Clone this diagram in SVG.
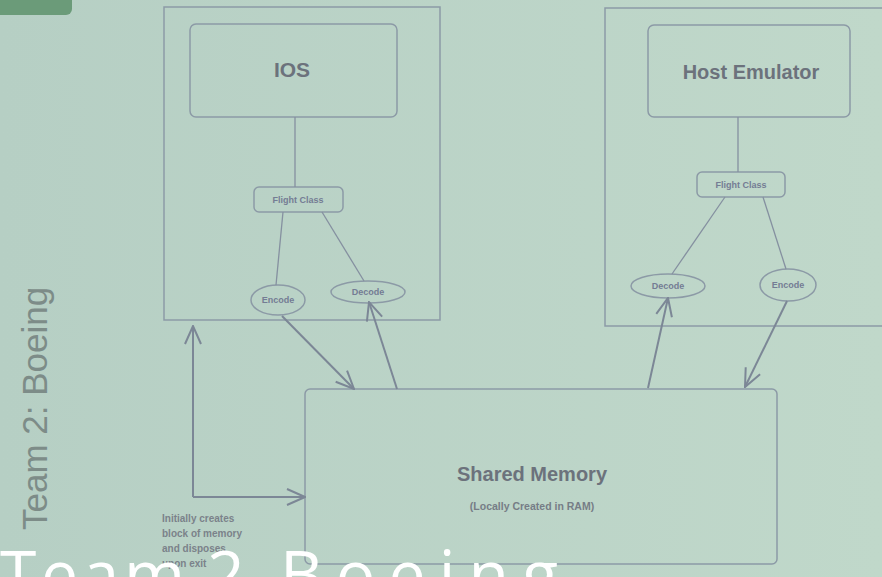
<svg xmlns="http://www.w3.org/2000/svg" width="882" height="577" viewBox="0 0 882 577">
<defs>
<linearGradient id="bg" x1="0" y1="0" x2="1" y2="0">
<stop offset="0" stop-color="#b6cfc4"/>
<stop offset="1" stop-color="#c0d8ca"/>
</linearGradient>
<marker id="ah" viewBox="0 0 20 20" refX="19" refY="10" markerWidth="20" markerHeight="20" markerUnits="userSpaceOnUse" orient="auto">
<path d="M1,2 L19,10 L1,18" fill="none" stroke="#7c8796" stroke-width="2"/>
</marker>
<style>
.box{fill:none;stroke:#8c9aa6;stroke-width:1.5}
.rbox{fill:none;stroke:#8c9aa6;stroke-width:1.5}
.ln{fill:none;stroke:#8590a0;stroke-width:1.3}
.arr{fill:none;stroke:#7c8796;stroke-width:2;marker-end:url(#ah)}
.t{font-family:"Liberation Sans",Arial,sans-serif;fill:#6c727c;text-anchor:middle}
.big{font-size:21px;font-weight:bold}
.sm{font-size:9px;font-weight:bold;fill:#747c94}
.note{font-family:"Liberation Sans",Arial,sans-serif;fill:#7b828a;font-size:10px;font-weight:bold}
.cap{font-family:"Open Sans","Liberation Sans",sans-serif;font-size:66px;fill:#ffffff}
</style>
</defs>
<rect width="882" height="577" fill="url(#bg)"/>
<rect x="-10" y="-12" width="82" height="27" rx="6" fill="#6b9b79"/>
<text transform="translate(47,530) rotate(-90)" font-family="Liberation Sans,Arial,sans-serif" font-size="35" fill="#7d8c88">Team 2: Boeing</text>

<g id="ios-container">
<rect class="box" x="164" y="7" width="276" height="313"/>
</g>
<g id="ios">
<rect class="rbox" x="190" y="24" width="207" height="93" rx="6"/>
<text class="t big" x="292" y="77">IOS</text>
</g>
<g id="ios-flight">
<rect class="rbox" x="254" y="187" width="89" height="25" rx="5"/>
<text class="t sm" x="298" y="203">Flight Class</text>
</g>
<g id="ios-encode">
<ellipse class="rbox" cx="278" cy="300" rx="27" ry="15"/>
<text class="t sm" x="278" y="303">Encode</text>
</g>
<g id="ios-decode">
<ellipse class="rbox" cx="368" cy="292" rx="37" ry="11"/>
<text class="t sm" x="368" y="295">Decode</text>
</g>

<g id="host-container">
<rect class="box" x="605" y="8" width="290" height="318"/>
</g>
<g id="host">
<rect class="rbox" x="648" y="25" width="202" height="92" rx="6"/>
<text class="t big" x="751" y="79" style="font-size:20px">Host Emulator</text>
</g>
<g id="host-flight">
<rect class="rbox" x="697" y="172" width="88" height="25" rx="5"/>
<text class="t sm" x="741" y="188">Flight Class</text>
</g>
<g id="host-decode">
<ellipse class="rbox" cx="668" cy="286" rx="37" ry="12"/>
<text class="t sm" x="668" y="289">Decode</text>
</g>
<g id="host-encode">
<ellipse class="rbox" cx="788" cy="285" rx="28" ry="16"/>
<text class="t sm" x="788" y="288">Encode</text>
</g>

<g id="shared-memory">
<rect class="rbox" x="305" y="389" width="472" height="175" rx="5"/>
<text class="t" x="532" y="481" style="font-size:20px;font-weight:bold">Shared Memory</text>
<text class="t" x="532" y="510" style="font-size:10.5px;font-weight:bold;fill:#767d86">(Locally Created in RAM)</text>
</g>

<g id="connectors">
<line class="ln" x1="295" y1="117" x2="295" y2="187"/>
<line class="ln" x1="283" y1="212" x2="276" y2="285"/>
<line class="ln" x1="322" y1="212" x2="364" y2="281"/>
<line class="ln" x1="738" y1="117" x2="738" y2="172"/>
<line class="ln" x1="725" y1="197" x2="672" y2="274"/>
<line class="ln" x1="763" y1="197" x2="786" y2="269"/>
<line class="arr" x1="282" y1="316" x2="354" y2="389"/>
<line class="arr" x1="397" y1="389" x2="369" y2="302"/>
<line class="arr" x1="648" y1="388" x2="668" y2="298"/>
<line class="arr" x1="787" y1="301" x2="745" y2="387"/>
<line class="arr" x1="193" y1="497" x2="193" y2="326"/>
<line class="arr" x1="193" y1="497" x2="305" y2="497"/>
</g>

<g id="note">
<text class="note" x="162" y="522">Initially creates</text>
<text class="note" x="162" y="537">block of memory</text>
<text class="note" x="162" y="552">and disposes</text>
<text class="note" x="162" y="567">upon exit</text>
</g>

<g id="caption">
<text class="cap" x="0" y="598" textLength="185" lengthAdjust="spacing">Team</text>
<text class="cap" x="207" y="598">2</text>
<text class="cap" x="280" y="598" textLength="278" lengthAdjust="spacing">Boeing</text>
</g>
</svg>
